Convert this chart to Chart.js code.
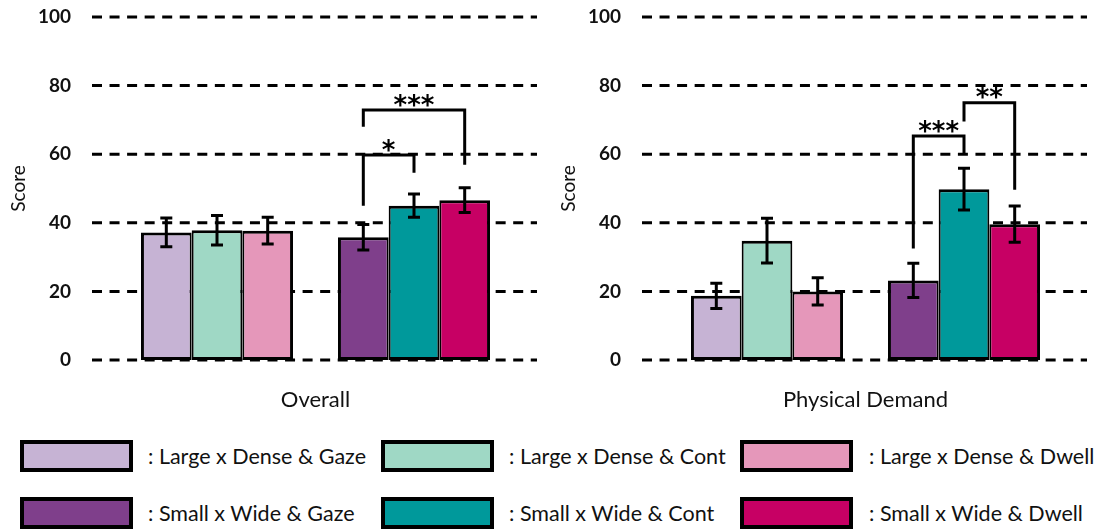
<!DOCTYPE html>
<html>
<head>
<meta charset="utf-8">
<script src="https://cdn.jsdelivr.net/npm/chart.js@4/dist/chart.umd.min.js"></script>
<style>
  html, body { margin: 0; padding: 0; background: #fff; }
  body { width: 1096px; height: 531px; position: relative; overflow: hidden; font-family: Lato, "Open Sans", sans-serif; }
  #c1 { position: absolute; left: 0; top: 0; }
  #c2 { position: absolute; left: 550px; top: 0; }
  .lbox { position: absolute; width: 113px; height: 32px; box-sizing: border-box; border: 4px solid #000; }
  .ltxt { position: absolute; font-size: 21.5px; color: #111; line-height: 24px; white-space: nowrap; }
</style>
</head>
<body>
<canvas id="c1" width="548" height="420"></canvas>
<canvas id="c2" width="546" height="420"></canvas>
<div id="legend"></div>
<script>
// ---------- data ----------
const groups = ['Large x Dense', 'Small x Wide'];
const methods = ['Gaze', 'Cont', 'Dwell'];
const yTicks = [0, 20, 40, 60, 80, 100];
const panelTitles = ['Overall', 'Physical Demand'];

// Overall (index 0 = Large x Dense, 1 = Small x Wide)
const overallGaze = [37.2, 35.8];
const overallCont = [37.8, 45.0];
const overallDwell = [37.7, 46.6];
const overallGazeErr = [4.2, 3.7];
const overallContErr = [4.3, 3.4];
const overallDwellErr = [3.9, 3.6];

// Physical Demand
const physGaze = [18.7, 23.2];
const physCont = [34.8, 49.8];
const physDwell = [20.0, 39.6];
const physGazeErr = [3.7, 5.0];
const physContErr = [6.5, 6.1];
const physDwellErr = [4.0, 5.3];

// significance brackets: group index, from/to method index, bracket level, leg ends, label
const overallSig = [
  { group: 1, from: 0, to: 1, level: 59.8, fromEnd: 45.0, toEnd: 54.6, label: '*' },
  { group: 1, from: 0, to: 2, level: 72.9, fromEnd: 68.0, toEnd: 56.9, label: '***' }
];
const physSig = [
  { group: 1, from: 0, to: 1, level: 65.3, fromEnd: 32.5, toEnd: 59.8, label: '***' },
  { group: 1, from: 1, to: 2, level: 75.0, fromEnd: 69.5, toEnd: 49.6, label: '**' }
];

// ---------- styles ----------
const lightColors = ['#C6B3D4', '#9FD8C5', '#E597BA'];
const darkColors  = ['#7F3F8B', '#00999B', '#C70064'];
const textFont = 'Lato';

const gridPlugin = {
  id: 'dashGrid',
  beforeDatasetsDraw(chart) {
    const ctx = chart.ctx, ys = chart.scales.y, ca = chart.chartArea;
    ctx.save();
    ctx.strokeStyle = '#000';
    ctx.lineWidth = 3;
    ctx.setLineDash([10, 7.55]);
    ys.ticks.forEach(t => {
      const y = ys.getPixelForValue(t.value);
      ctx.beginPath();
      ctx.moveTo(ca.left - 26.5, y);
      ctx.lineTo(ca.right + 24.5, y);
      ctx.stroke();
    });
    ctx.restore();
  }
};

const errPlugin = {
  id: 'errBars',
  afterDatasetsDraw(chart) {
    const ctx = chart.ctx, ys = chart.scales.y;
    ctx.save();
    ctx.strokeStyle = '#000';
    ctx.lineWidth = 3;
    ctx.lineCap = 'butt';
    chart.data.datasets.forEach((ds, i) => {
      const meta = chart.getDatasetMeta(i);
      meta.data.forEach((bar, j) => {
        const m = ds.data[j], e = ds.errors[j];
        const yt = ys.getPixelForValue(m + e), yb = ys.getPixelForValue(m - e);
        ctx.beginPath();
        ctx.moveTo(bar.x, yt); ctx.lineTo(bar.x, yb);
        ctx.moveTo(bar.x - 6, yt); ctx.lineTo(bar.x + 6, yt);
        ctx.moveTo(bar.x - 6, yb); ctx.lineTo(bar.x + 6, yb);
        ctx.stroke();
      });
    });
    ctx.restore();
  }
};

const bracketPlugin = {
  id: 'brackets',
  afterDatasetsDraw(chart, args, opts) {
    const ctx = chart.ctx, ys = chart.scales.y;
    ctx.save();
    ctx.strokeStyle = '#000';
    ctx.fillStyle = '#000';
    ctx.lineWidth = 3;
    ctx.lineJoin = 'miter';
    (opts.items || []).forEach(b => {
      const x1 = chart.getDatasetMeta(b.from).data[b.group].x;
      const x2 = chart.getDatasetMeta(b.to).data[b.group].x;
      const yl = ys.getPixelForValue(b.level);
      ctx.beginPath();
      ctx.moveTo(x1, ys.getPixelForValue(b.fromEnd));
      ctx.lineTo(x1, yl);
      ctx.lineTo(x2, yl);
      ctx.lineTo(x2, ys.getPixelForValue(b.toEnd));
      ctx.stroke();
      ctx.font = 'bold 26px "DejaVu Sans"';
      ctx.textAlign = 'center';
      ctx.textBaseline = 'alphabetic';
      const cy = yl - 11;
      ctx.fillText(b.label, (x1 + x2) / 2, cy + 14.7);
    });
    ctx.restore();
  }
};

function makeChart(id, title, vals, errs, sig, padRight) {
  const bw = [
    { left: 3, right: 2, top: 3, bottom: 3 },
    { left: 2, right: 2, top: 3, bottom: 3 },
    { left: 2, right: 3, top: 3, bottom: 3 }
  ];
  const datasets = methods.map((m, i) => ({
    label: m,
    data: vals[i],
    errors: errs[i],
    backgroundColor: [lightColors[i], darkColors[i]],
    borderColor: '#000',
    borderWidth: bw[i],
    borderSkipped: false,
    categoryPercentage: 0.772,
    barPercentage: 1.0
  }));
  return new Chart(document.getElementById(id), {
    type: 'bar',
    data: { labels: groups, datasets },
    options: {
      responsive: false,
      animation: false,
      devicePixelRatio: 1,
      layout: { padding: { top: 17, right: padRight, left: 0, bottom: 0 } },
      plugins: {
        legend: { display: false },
        tooltip: { enabled: false },
        brackets: { items: sig }
      },
      scales: {
        x: {
          type: 'category',
          grid: { display: false, drawTicks: false },
          border: { display: false },
          ticks: { display: false },
          title: { display: true, text: title, color: '#111', font: { family: textFont, size: 22 }, padding: { top: 0, bottom: 7 } },
          afterFit(s) { s.height = 60; }
        },
        y: {
          min: 0, max: 100,
          afterBuildTicks(s) { s.ticks = yTicks.map(v => ({ value: v })); },
          ticks: { padding: 47.5, color: '#111', font: { family: textFont, size: 19, weight: 'bold' } },
          grid: { display: false, drawTicks: false },
          border: { display: false },
          title: { display: true, text: 'Score', color: '#111', font: { family: textFont, size: 19 }, padding: { top: 7, bottom: 0 } },
          afterFit(s) { s.width = 118.5; s.paddingTop = 0; s.paddingBottom = 0; }
        }
      }
    },
    plugins: [gridPlugin, errPlugin, bracketPlugin]
  });
}

makeChart('c1', panelTitles[0],
  [overallGaze, overallCont, overallDwell],
  [overallGazeErr, overallContErr, overallDwellErr], overallSig, 35.5);
makeChart('c2', panelTitles[1],
  [physGaze, physCont, physDwell],
  [physGazeErr, physContErr, physDwellErr], physSig, 33.5);

// ---------- legend ----------
const legend = document.getElementById('legend');
const boxX = [20, 381, 740];
const txtX = [148, 509, 869];
const rowTop = [440, 497];
[lightColors, darkColors].forEach((cols, r) => {
  methods.forEach((m, i) => {
    const b = document.createElement('div');
    b.className = 'lbox';
    b.style.left = boxX[i] + 'px';
    b.style.top = rowTop[r] + 'px';
    b.style.background = cols[i];
    legend.appendChild(b);
    const t = document.createElement('div');
    t.className = 'ltxt';
    t.style.left = txtX[i] + 'px';
    t.style.top = (rowTop[r] + 4) + 'px';
    t.textContent = ': ' + groups[r] + ' & ' + m;
    legend.appendChild(t);
  });
});
</script>
</body>
</html>
